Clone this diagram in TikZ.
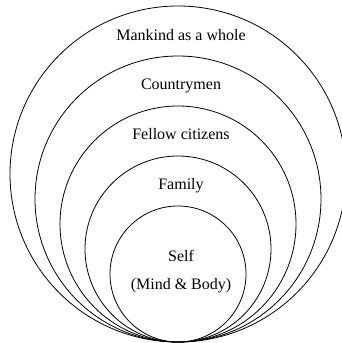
\documentclass[tikz,border=0pt]{standalone}
\usepackage{fontspec}
\setmainfont{Liberation Serif}
\tikzset{lbl/.style={font=\fontsize{16}{19}\selectfont, inner sep=0pt, anchor=base}}
\begin{document}
\begin{tikzpicture}[x=1pt,y=1pt]
            \useasboundingbox (0,0) rectangle (342,343);
            \draw[line width=0.8pt] (178,169) circle (168);
            \draw[line width=0.8pt] (178,144) circle (143);
            \draw[line width=0.8pt] (178,119) circle (118);
            \draw[line width=0.8pt] (178,94) circle (93);
            \draw[line width=0.8pt] (178,69) circle (68);
            \node[lbl] (mankind) at (181,302.3) {Mankind as a whole};
            \node[lbl] (country) at (181,253.5) {Countrymen};
            \node[lbl] (fellow) at (181,203) {Fellow citizens};
            \node[lbl] (family) at (181,153) {Family};
            \node[lbl] (self) at (181,81.5) {Self};
            \node[lbl] (mindbody) at (181,53) {(Mind \& Body)};
          \end{tikzpicture}
\end{document}
